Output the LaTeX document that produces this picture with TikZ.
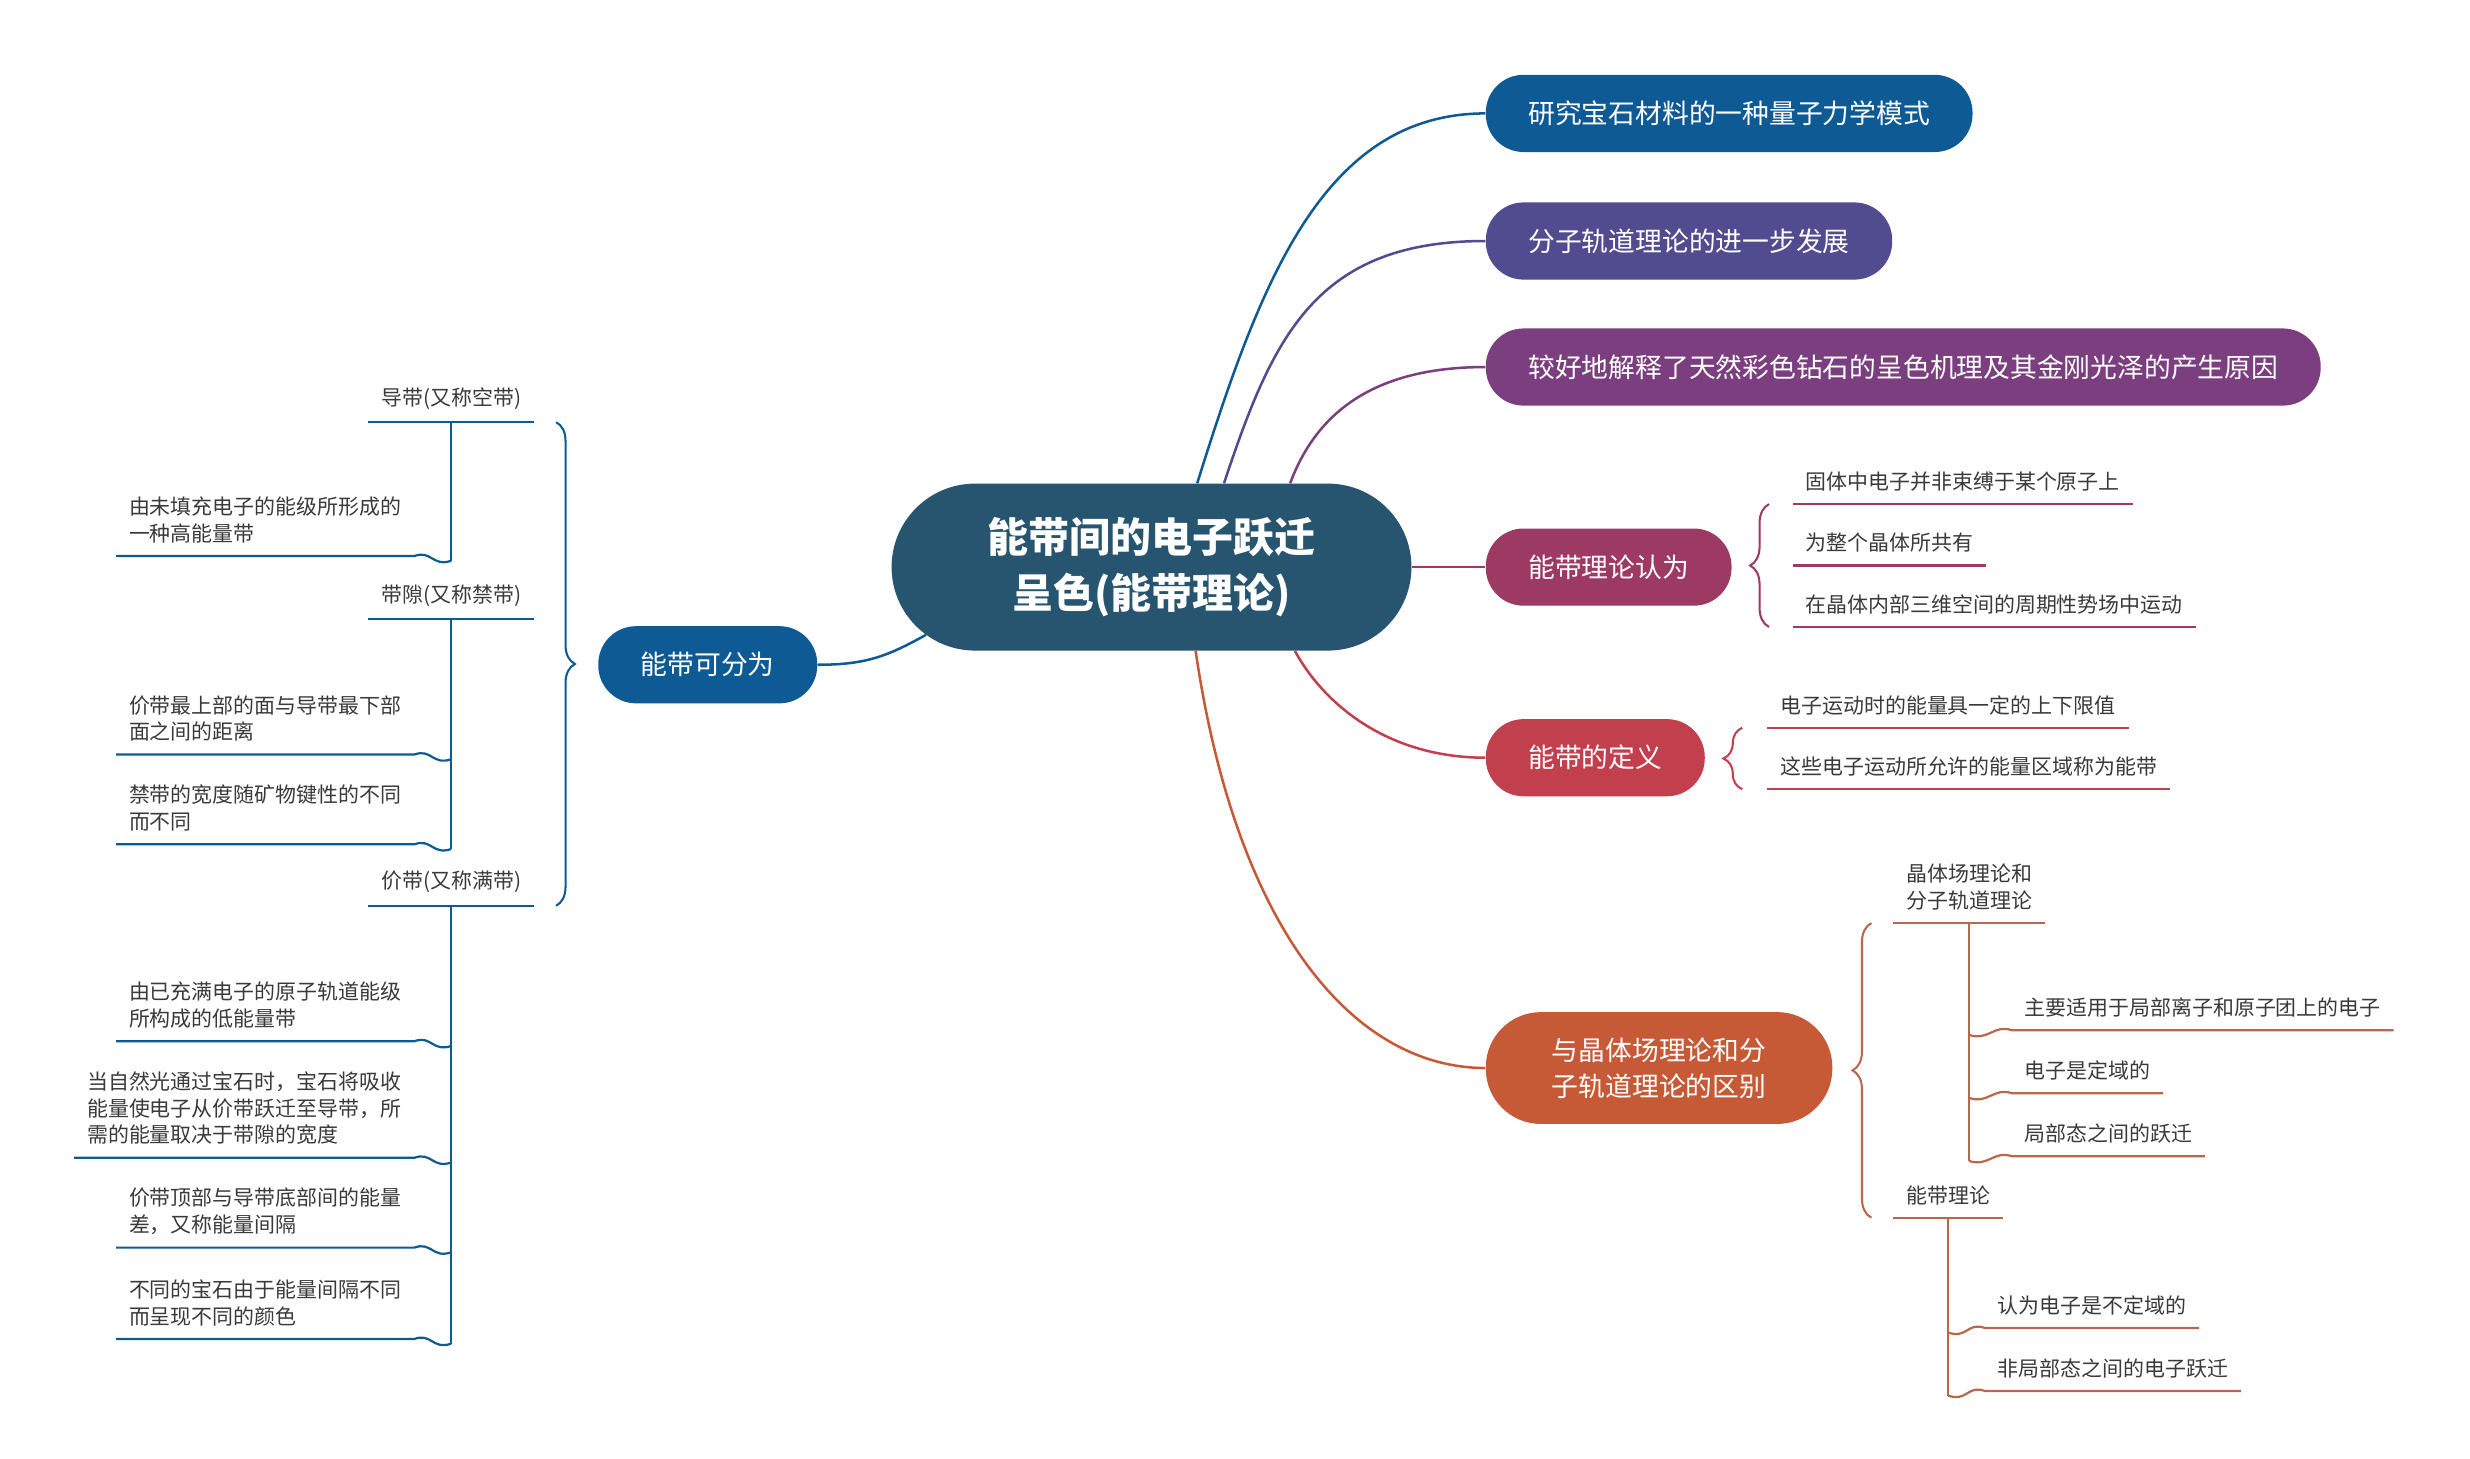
\documentclass[tikz,border=0pt]{standalone}
\usepackage{fontspec}
\setmainfont{Noto Sans CJK SC}
\usepackage{tikz}
\usetikzlibrary{decorations.pathreplacing, calc}

\definecolor{rootcol}{RGB}{39,85,112}
\definecolor{bluecol}{RGB}{14,90,148}
\definecolor{indigocol}{RGB}{81,75,143}
\definecolor{violetcol}{RGB}{123,63,128}
\definecolor{plumcol}{RGB}{156,58,100}
\definecolor{redcol}{RGB}{194,64,77}
\definecolor{rustcol}{RGB}{198,90,54}
\definecolor{rustline}{RGB}{184,104,78}
\definecolor{leaftext}{RGB}{58,58,58}

\begin{document}
\begin{tikzpicture}[x=1pt, y=-1pt]
    % Define styles
    \tikzstyle{root} = [rectangle, rounded corners=53pt, fill=rootcol, text=white, minimum width=330pt, minimum height=106pt, align=center, font=\fontsize{26}{36}\selectfont\bfseries]
    \tikzstyle{topic} = [rectangle, rounded corners=24pt, text=white, minimum height=49pt, inner xsep=27pt, anchor=west, font=\fontsize{17}{23}\selectfont]
    \tikzstyle{leaf} = [inner xsep=8pt, inner ysep=8pt, text=leaftext, align=left, font=\fontsize{13.3}{17}\selectfont]
    \tikzstyle{link} = [line width=1.6pt]
    \tikzstyle{uline} = [line width=1.4pt]
    \tikzstyle{curly} = [line width=1.3pt, decorate, decoration={brace, amplitude=12pt}]
    \tikzstyle{rwave} = [to path={.. controls +(12,4) and +(-11,-4) .. (\tikztotarget)}]
    \tikzstyle{lwave} = [to path={.. controls +(11,-4) and +(-12,4) .. (\tikztotarget)}]

    \useasboundingbox[fill=white] (0,0) rectangle (1568,925.6);

    % Central topic
    \node[root] (root) at (731,360) {能带间的电子跃迁\\呈色(能带理论)};

    % Main branches
    \node[topic, fill=bluecol] (quant) at (943,72) {研究宝石材料的一种量子力学模式};
    \node[topic, fill=indigocol] (orbit) at (943,153) {分子轨道理论的进一步发展};
    \node[topic, fill=violetcol] (diamond) at (943,233) {较好地解释了天然彩色钻石的呈色机理及其金刚光泽的产生原因};
    \node[topic, fill=plumcol] (view) at (943,360) {能带理论认为};
    \node[topic, fill=redcol] (defn) at (943,481) {能带的定义};
    \node[topic, fill=rustcol, minimum height=71pt, rounded corners=35pt, inner xsep=42pt, align=center] (diff) at (943,678) {与晶体场理论和分\\子轨道理论的区别};
    \node[topic, fill=bluecol, anchor=east] (kinds) at (519,422) {能带可分为};

    % Curves from the centre
    \draw[link, bluecol] ([xshift=29pt]root.north) .. controls +(40,-128) and +(-103,0) .. (quant.west);
    \draw[link, indigocol] ([xshift=46pt]root.north) .. controls +(31,-93) and +(-108,0) .. (orbit.west);
    \draw[link, violetcol] ([xshift=88pt]root.north) .. controls +(16,-43) and +(-73,0) .. (diamond.west);
    \draw[link, plumcol] (root.east) -- (view.west);
    \draw[link, redcol] ([xshift=91pt]root.south) .. controls +(18,33) and +(-63,0) .. (defn.west);
    \draw[link, rustcol] ([xshift=28pt]root.south) .. controls +(26,178) and +(-83,0) .. (diff.west);
    \draw[link, bluecol] ([shift={(22,43)}]root.west) .. controls +(-25,14) and +(30,0) .. (kinds.east);

    % Band theory view
    \node[leaf, anchor=south west] (view1) at (1138,320) {固体中电子并非束缚于某个原子上};
    \node[leaf, anchor=south west] (view2) at (1138,359) {为整个晶体所共有};
    \node[leaf, anchor=south west] (view3) at (1138,398) {在晶体内部三维空间的周期性势场中运动};
    \draw[uline, plumcol] (view1.south west) -- (view1.south east) (view2.south west) -- (view2.south east)
                          (view3.south west) -- (view3.south east);
    \draw[curly, plumcol] ([xshift=-15pt]view3.south west) -- ([xshift=-15pt]view1.south west);

    % Definition
    \node[leaf, anchor=south west] (def1) at (1122,462) {电子运动时的能量具一定的上下限值};
    \node[leaf, anchor=south west] (def2) at (1122,501) {这些电子运动所允许的能量区域称为能带};
    \draw[uline, redcol] (def1.south west) -- (def1.south east) (def2.south west) -- (def2.south east);
    \draw[curly, redcol] ([xshift=-16pt]def2.south west) -- ([xshift=-16pt]def1.south west);

    % Difference
    \node[leaf, anchor=south west] (crys) at (1202,586) {晶体场理论和\\分子轨道理论};
    \node[leaf, anchor=south west] (bandth) at (1202,773) {能带理论};
    \draw[uline, rustline] (crys.south west) -- (crys.south east) (bandth.south west) -- (bandth.south east);
    \draw[curly, rustline] ([xshift=-14pt]bandth.south west) -- ([xshift=-14pt]crys.south west);

    \node[leaf, anchor=south west] (crysA) at (1277,654) {主要适用于局部离子和原子团上的电子};
    \node[leaf, anchor=south west] (crysB) at (1277,694) {电子是定域的};
    \node[leaf, anchor=south west] (crysC) at (1277,734) {局部态之间的跃迁};
    \draw[uline, rustline] (crys.south) -- ($(crys.south |- crysC.south west)+(0,3)$);
    \draw[uline, rustline] ($(crys.south |- crysA.south west)+(0,3)$) to[rwave] (crysA.south west) -- (crysA.south east);
    \draw[uline, rustline] ($(crys.south |- crysB.south west)+(0,3)$) to[rwave] (crysB.south west) -- (crysB.south east);
    \draw[uline, rustline] ($(crys.south |- crysC.south west)+(0,3)$) to[rwave] (crysC.south west) -- (crysC.south east);

    \node[leaf, anchor=south west] (bandA) at (1260,843) {认为电子是不定域的};
    \node[leaf, anchor=south west] (bandB) at (1260,883) {非局部态之间的电子跃迁};
    \draw[uline, rustline] (bandth.south) -- ($(bandth.south |- bandB.south west)+(0,3)$);
    \draw[uline, rustline] ($(bandth.south |- bandA.south west)+(0,3)$) to[rwave] (bandA.south west) -- (bandA.south east);
    \draw[uline, rustline] ($(bandth.south |- bandB.south west)+(0,3)$) to[rwave] (bandB.south west) -- (bandB.south east);

    % Kinds of bands (left)
    \node[leaf, anchor=south east] (cond) at (339,268) {导带(又称空带)};
    \node[leaf, anchor=south east] (gap) at (339,393) {带隙(又称禁带)};
    \node[leaf, anchor=south east] (val) at (339,575) {价带(又称满带)};
    \draw[uline, bluecol] (cond.south west) -- (cond.south east) (gap.south west) -- (gap.south east)
                          (val.south west) -- (val.south east);
    \draw[curly, bluecol] ([xshift=14pt]cond.south east) -- ([xshift=14pt]val.south east);

    \node[leaf, anchor=south east] (condA) at (263,353) {由未填充电子的能级所形成的\\一种高能量带};
    \draw[uline, bluecol] (cond.south) -- ($(cond.south |- condA.south east)+(0,3)$);
    \draw[uline, bluecol] (condA.south west) -- (condA.south east) to[lwave] ($(cond.south |- condA.south east)+(0,3)$);

    \node[leaf, anchor=south east] (gapA) at (263,479) {价带最上部的面与导带最下部\\面之间的距离};
    \node[leaf, anchor=south east] (gapB) at (263,536) {禁带的宽度随矿物键性的不同\\而不同};
    \draw[uline, bluecol] (gap.south) -- ($(gap.south |- gapB.south east)+(0,3)$);
    \draw[uline, bluecol] (gapA.south west) -- (gapA.south east) to[lwave] ($(gap.south |- gapA.south east)+(0,3)$);
    \draw[uline, bluecol] (gapB.south west) -- (gapB.south east) to[lwave] ($(gap.south |- gapB.south east)+(0,3)$);

    \node[leaf, anchor=south east] (valA) at (263,661) {由已充满电子的原子轨道能级\\所构成的低能量带};
    \node[leaf, anchor=south east] (valB) at (263,735) {当自然光通过宝石时，宝石将吸收\\能量使电子从价带跃迁至导带，所\\需的能量取决于带隙的宽度};
    \node[leaf, anchor=south east] (valC) at (263,792) {价带顶部与导带底部间的能量\\差，又称能量间隔};
    \node[leaf, anchor=south east] (valD) at (263,850) {不同的宝石由于能量间隔不同\\而呈现不同的颜色};
    \draw[uline, bluecol] (val.south) -- ($(val.south |- valD.south east)+(0,3)$);
    \draw[uline, bluecol] (valA.south west) -- (valA.south east) to[lwave] ($(val.south |- valA.south east)+(0,3)$);
    \draw[uline, bluecol] (valB.south west) -- (valB.south east) to[lwave] ($(val.south |- valB.south east)+(0,3)$);
    \draw[uline, bluecol] (valC.south west) -- (valC.south east) to[lwave] ($(val.south |- valC.south east)+(0,3)$);
    \draw[uline, bluecol] (valD.south west) -- (valD.south east) to[lwave] ($(val.south |- valD.south east)+(0,3)$);
\end{tikzpicture}
\end{document}
